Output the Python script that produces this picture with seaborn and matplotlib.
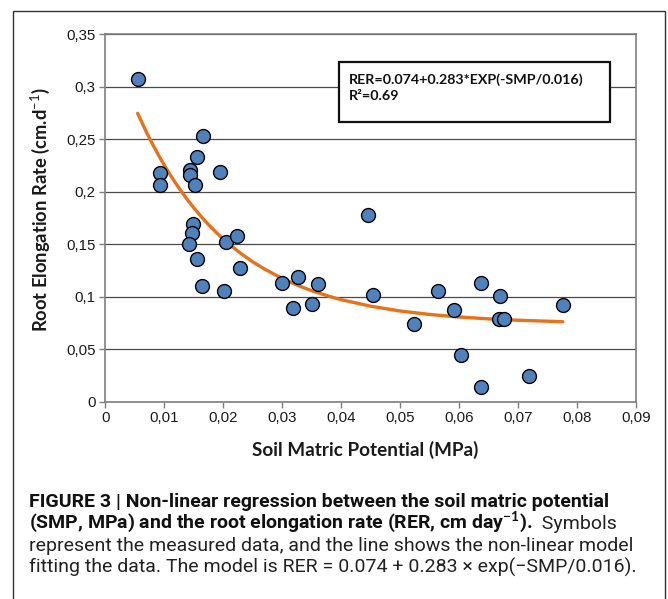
import matplotlib
matplotlib.use("Agg")
import matplotlib.pyplot as plt
from matplotlib.patches import Rectangle
from matplotlib import font_manager
import seaborn as sns
import pandas as pd

# ---- data ----
smp = [0.0055, 0.0093, 0.0093, 0.0144, 0.0144, 0.0155, 0.0165, 0.0153, 0.0195,
       0.0149, 0.0148, 0.0142, 0.0156, 0.0164, 0.0205, 0.0223, 0.0228, 0.0201,
       0.0300, 0.0327, 0.0319, 0.0361, 0.0351, 0.0446, 0.0454, 0.0524, 0.0565,
       0.0591, 0.0604, 0.0637, 0.0637, 0.0669, 0.0668, 0.0676, 0.0719, 0.0776]
rer = [0.307, 0.218, 0.206, 0.221, 0.216, 0.233, 0.253, 0.206, 0.219,
       0.169, 0.161, 0.150, 0.136, 0.110, 0.152, 0.158, 0.127, 0.105,
       0.113, 0.119, 0.089, 0.112, 0.093, 0.178, 0.102, 0.074, 0.105,
       0.087, 0.0445, 0.113, 0.0137, 0.101, 0.079, 0.079, 0.0245, 0.092]

# fitted curve as drawn in the picture
curve_smp = [0.0055, 0.007, 0.008, 0.009, 0.010, 0.011, 0.012, 0.013, 0.014,
             0.015, 0.016, 0.017, 0.018, 0.019, 0.020, 0.021, 0.023, 0.025,
             0.027, 0.030, 0.033, 0.035, 0.038, 0.040, 0.045, 0.050, 0.055,
             0.060, 0.065, 0.070, 0.0776]
curve_rer = [0.2747, 0.2567, 0.2456, 0.2353, 0.2255, 0.2163, 0.2077, 0.1996, 0.1920,
             0.1848, 0.1781, 0.1718, 0.1659, 0.1603, 0.1551, 0.1502, 0.1412, 0.1333,
             0.1264, 0.1174, 0.1100, 0.1058, 0.1003, 0.0972, 0.0910, 0.0864, 0.0831,
             0.0807, 0.0789, 0.0776, 0.0762]

x_ticks = [0, 0.01, 0.02, 0.03, 0.04, 0.05, 0.06, 0.07, 0.08, 0.09]
x_tick_labels = ["0", "0,01", "0,02", "0,03", "0,04", "0,05", "0,06", "0,07", "0,08", "0,09"]
y_ticks = [0, 0.05, 0.1, 0.15, 0.2, 0.25, 0.3, 0.35]
y_tick_labels = ["0", "0,05", "0,1", "0,15", "0,2", "0,25", "0,3", "0,35"]

x_label = "Soil Matric Potential (MPa)"
y_label = "Root Elongation Rate (cm.d$^{-1}$)"
eq_text = "RER=0.074+0.283*EXP(-SMP/0.016)\nR²=0.69"

df_pts = pd.DataFrame({"SMP": smp, "RER": rer})
df_fit = pd.DataFrame({"SMP": curve_smp, "RER": curve_rer})

# ---- style ----
sns.set_theme(style="white")
avail = {f.name for f in font_manager.fontManager.ttflist}
cap_font = "Liberation Sans Narrow" if "Liberation Sans Narrow" in avail else "Roboto"
plt.rcParams["font.family"] = ["Liberation Sans", "DejaVu Sans"]
plt.rcParams["mathtext.fontset"] = "custom"
plt.rcParams["mathtext.rm"] = "Lato"
plt.rcParams["mathtext.bf"] = "Lato:bold"

W, H = 668, 599
fig = plt.figure(figsize=(W / 100, H / 100), dpi=100)

def fx(px):
    return px / W

def fy(py):
    return 1 - py / H

ax_l, ax_r, ax_t, ax_b = 105.2, 636.0, 34.3, 401.7
ax = fig.add_axes([fx(ax_l), fy(ax_b), (ax_r - ax_l) / W, (ax_b - ax_t) / H])

ax.set_xlim(0, 0.09)
ax.set_ylim(0, 0.35)
ax.set_xticks(x_ticks)
ax.set_xticklabels(x_tick_labels)
ax.set_yticks(y_ticks)
ax.set_yticklabels(y_tick_labels)

ax.yaxis.grid(True, color="#4a4a4a", linewidth=0.9)
ax.xaxis.grid(False)
ax.set_axisbelow(True)

for side in ["left", "bottom", "top", "right"]:
    ax.spines[side].set_color("#7f7f7f")
    ax.spines[side].set_linewidth(1.2)

ax.tick_params(axis="both", which="major", direction="out", length=4,
               width=1.0, color="#7f7f7f", labelsize=10.8, labelcolor="#1a1a1a",
               bottom=True, left=True, pad=3)

sns.lineplot(data=df_fit, x="SMP", y="RER", ax=ax, color="#E8711B",
             linewidth=2.4, zorder=3, legend=False)
sns.scatterplot(data=df_pts, x="SMP", y="RER", ax=ax, s=100,
                color="#4F81BD", edgecolor="black", linewidth=1.0,
                zorder=4, legend=False)

ax.set_xlabel(x_label, fontfamily="Lato", fontweight="bold", fontsize=13.6,
              color="#1a1a1a")
ax.set_ylabel(y_label, fontfamily="Lato", fontweight="bold", fontsize=13.2,
              color="#1a1a1a")
ax.xaxis.set_label_coords((365 - ax_l) / (ax_r - ax_l), (ax_b - 450) / (ax_b - ax_t))
ax.xaxis.label.set_va("center")
ax.yaxis.set_label_coords((40 - ax_l) / (ax_r - ax_l), (ax_b - 210) / (ax_b - ax_t))
ax.yaxis.label.set_va("center")

# equation box
bx0, bx1, by0, by1 = 338.7, 610.0, 61.7, 121.7
fig.add_artist(Rectangle((fx(bx0), fy(by1)), (bx1 - bx0) / W, (by1 - by0) / H,
                         transform=fig.transFigure, facecolor="white",
                         edgecolor="#111111", linewidth=1.6, zorder=5))
fig.text(fx(349), fy(87.5), eq_text, fontfamily="Lato", fontweight="bold",
         fontsize=10.3, color="#111111", ha="left", va="center",
         linespacing=1.35, zorder=6)

# outer frame (open at the bottom edge)
fig.add_artist(Rectangle((fx(13.3), fy(610)), (665 - 13.3) / W, (610 - 10.7) / H,
                         transform=fig.transFigure, facecolor="none",
                         edgecolor="#333333", linewidth=1.0, zorder=1))

# caption
cx = fx(29)
cap_size = 14.0
t1 = fig.text(cx, fy(507), "FIGURE 3 | Non-linear regression between the soil matric potential",
              fontfamily=[cap_font, "DejaVu Sans"], fontweight="bold",
              fontsize=cap_size, color="#111111", va="baseline")
t2 = fig.text(cx, fy(529), "(SMP, MPa) and the root elongation rate (RER, cm day$^{\\mathbf{-1}}$).",
              fontfamily=[cap_font, "DejaVu Sans"], fontweight="bold",
              fontsize=cap_size, color="#111111", va="baseline")
t2b = fig.text(0, 0, "  Symbols",
               fontfamily=[cap_font, "DejaVu Sans"], fontsize=cap_size,
               color="#222222", va="baseline")
fig.canvas.draw()
bb = t2.get_window_extent()
t2b.set_position((bb.x1 / W, fy(529)))
fig.text(cx, fy(551), "represent the measured data, and the line shows the non-linear model",
         fontfamily=[cap_font, "DejaVu Sans"], fontsize=cap_size,
         color="#222222", va="baseline")
fig.text(cx, fy(573), "fitting the data. The model is RER = 0.074 + 0.283 × exp(−SMP/0.016).",
         fontfamily=[cap_font, "DejaVu Sans"], fontsize=cap_size,
         color="#222222", va="baseline")

fig.savefig("out.png", dpi=100)
